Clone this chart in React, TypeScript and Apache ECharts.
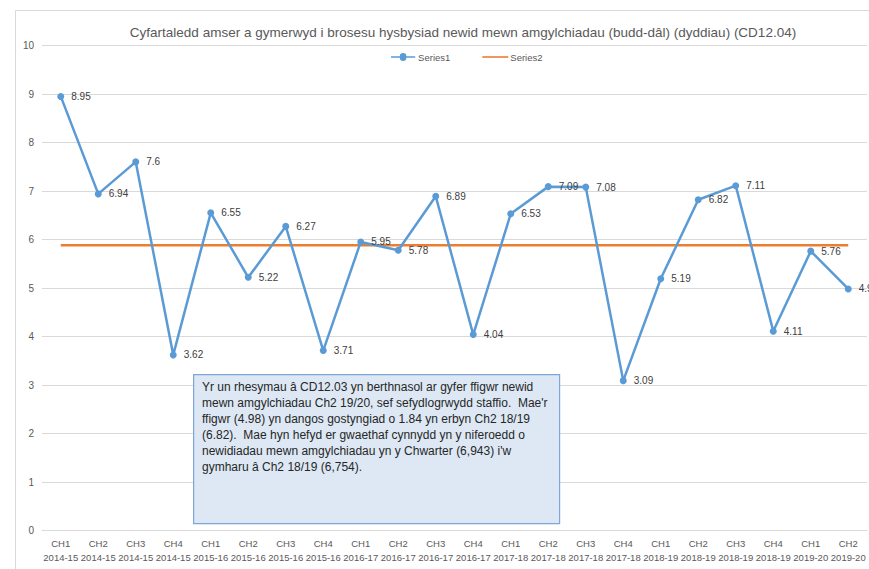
import React, { useEffect, useRef } from "react";
import * as echarts from "echarts";

const quarters = ["CH1","CH2","CH3","CH4","CH1","CH2","CH3","CH4","CH1","CH2","CH3","CH4","CH1","CH2","CH3","CH4","CH1","CH2","CH3","CH4","CH1","CH2"];
const years = ["2014-15","2014-15","2014-15","2014-15","2015-16","2015-16","2015-16","2015-16","2016-17","2016-17","2016-17","2016-17","2017-18","2017-18","2017-18","2017-18","2018-19","2018-19","2018-19","2018-19","2019-20","2019-20"];
const series1 = [8.95, 6.94, 7.6, 3.62, 6.55, 5.22, 6.27, 3.71, 5.95, 5.78, 6.89, 4.04, 6.53, 7.09, 7.08, 3.09, 5.19, 6.82, 7.11, 4.11, 5.76, 4.98];
const series2 = [5.88, 5.88, 5.88, 5.88, 5.88, 5.88, 5.88, 5.88, 5.88, 5.88, 5.88, 5.88, 5.88, 5.88, 5.88, 5.88, 5.88, 5.88, 5.88, 5.88, 5.88, 5.88];
const yTicks = { min: 0, max: 10, interval: 1 };

const titleText = "Cyfartaledd amser a gymerwyd i brosesu hysbysiad newid mewn amgylchiadau (budd-dâl) (dyddiau) (CD12.04)";
const noteLines = [
  "Yr un rhesymau â CD12.03 yn berthnasol ar gyfer ffigwr newid",
  "mewn amgylchiadau Ch2 19/20, sef sefydlogrwydd staffio.  Mae'r",
  "ffigwr (4.98) yn dangos gostyngiad o 1.84 yn erbyn Ch2 18/19",
  "(6.82).  Mae hyn hefyd er gwaethaf cynnydd yn y niferoedd o",
  "newidiadau mewn amgylchiadau yn y Chwarter (6,943) i'w",
  "gymharu â Ch2 18/19 (6,754).",
];

const FONT = "'Liberation Sans', 'Open Sans', sans-serif";

export default function App() {
  const ref = useRef<HTMLDivElement>(null);
  useEffect(() => {
    document.body.style.margin = "0";
    const chart = echarts.init(ref.current!, null, { renderer: "svg" });
    const categories = quarters.map((q, i) => q + "\n" + years[i]);
    chart.setOption({
      animation: false,
      backgroundColor: "#ffffff",
      textStyle: { fontFamily: FONT },
      title: {
        text: titleText,
        left: 458,
        textAlign: "center",
        top: 20,
        textStyle: { fontSize: 13.5, fontWeight: "normal", color: "#595959", fontFamily: FONT },
      },
      legend: {
        top: 47,
        left: 386,
        itemWidth: 26,
        itemHeight: 8,
        itemGap: 32,
        textStyle: { fontSize: 9.5, color: "#595959", fontFamily: FONT, padding: [0, 0, 0, -3] },
        data: [
          { name: "Series1", icon: "path://M0,3.2H9.5A3.5,3.5 0 1 1 16.5,3.2H26V4.8H16.5A3.5,3.5 0 1 1 9.5,4.8H0Z" },
          { name: "Series2", icon: "path://M0,3.2H26V4.8H0Z" },
        ],
      },
      grid: { left: 42, right: 2, top: 45.5, bottom: 38.5, containLabel: false },
      xAxis: {
        type: "category",
        data: categories,
        boundaryGap: true,
        axisLine: { show: true, lineStyle: { color: "#d9d9d9", width: 1 } },
        axisTick: { show: false },
        axisLabel: { interval: 0, fontSize: 9.5, color: "#595959", lineHeight: 14, margin: 6, fontFamily: FONT },
      },
      yAxis: {
        type: "value",
        min: yTicks.min,
        max: yTicks.max,
        interval: yTicks.interval,
        axisLine: { show: false },
        axisTick: { show: false },
        splitLine: { lineStyle: { color: "#d9d9d9", width: 1 } },
        axisLabel: { fontSize: 10, color: "#595959", margin: 8, fontFamily: FONT },
      },
      series: [
        {
          name: "Series1",
          type: "line",
          data: series1,
          z: 3,
          symbol: "circle",
          symbolSize: 7,
          color: "#5b9bd5",
          lineStyle: { color: "#5b9bd5", width: 2.5 },
          itemStyle: { color: "#5b9bd5" },
          label: { show: true, position: "right", distance: 7, fontSize: 10, color: "#404040", fontFamily: FONT },
        },
        {
          name: "Series2",
          type: "line",
          data: series2,
          z: 2,
          symbol: "none",
          showSymbol: false,
          color: "#ed7d31",
          lineStyle: { color: "#ed7d31", width: 2.5 },
          itemStyle: { color: "#ed7d31" },
        },
      ],
      graphic: [
        {
          type: "rect",
          left: 13,
          top: 8,
          shape: { width: 900, height: 600 },
          style: { fill: "none", stroke: "#d9d9d9", lineWidth: 1 },
          z: 0,
          silent: true,
        },
        {
          type: "rect",
          left: 193,
          top: 374,
          z: 100,
          shape: { x: 0, y: 0, width: 366, height: 149 },
          style: { fill: "#dde8f4", stroke: "#7ea6d6", lineWidth: 1.2 },
        },
        {
          type: "text",
          left: 202,
          top: 379,
          z: 101,
          style: {
            text: noteLines.join("\n"),
            fontSize: 12,
            lineHeight: 16,
            fill: "#262626",
            fontFamily: FONT,
          },
        },
      ],
    });
    return () => chart.dispose();
  }, []);
  return <div ref={ref} style={{ width: 869, height: 569 }} />;
}
